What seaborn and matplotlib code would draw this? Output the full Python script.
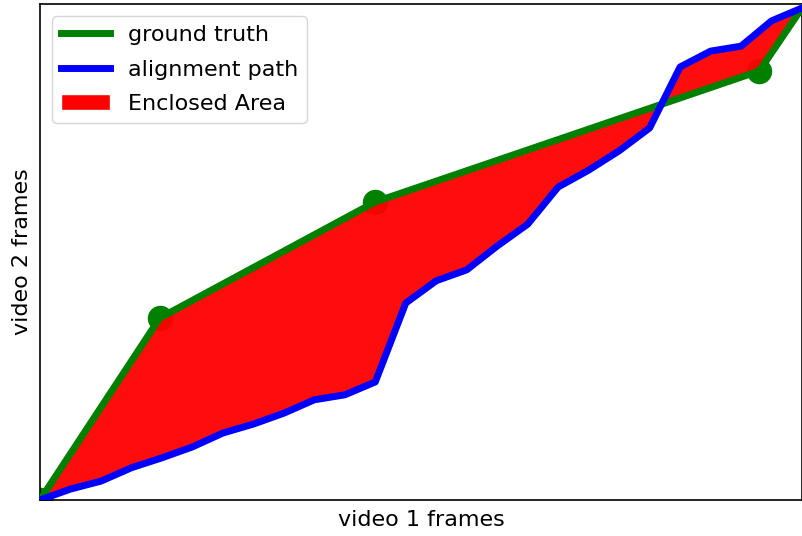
import matplotlib; matplotlib.use("Agg")
import matplotlib.pyplot as plt
import numpy as np
import seaborn as sns
from matplotlib.patches import Patch

# alignment path: one point per frame of video 1
path_x = list(range(26))
path_y = [0.0, 2.2, 3.8, 6.5, 8.5, 10.7, 13.5, 15.3, 17.5, 20.2, 21.2, 23.8, 39.7,
          44.2, 46.4, 51.2, 55.6, 63.1, 66.5, 70.4, 75.0, 87.3, 90.5, 91.5, 96.6, 99.2]
# ground truth keyframes
gt_x = [0.0, 3.93, 11.0, 23.6, 25.0]
gt_y = [0.0, 36.7, 60.1, 86.5, 99.2]
key_x = [0.0, 3.93, 11.0, 23.6]
key_y = [0.0, 36.7, 60.1, 86.5]

sns.set_style("white")
plt.rcParams.update({"font.family": ["DejaVu Sans"], "text.color": "black",
                     "axes.labelcolor": "black", "lines.solid_capstyle": "projecting"})

fig = plt.figure(figsize=(8.02, 5.36), dpi=100)
ax = fig.add_axes([40/802, 36/536, 762/802, 496/536])

ax.scatter(key_x, key_y, s=300, color="green", zorder=1)
poly_x = gt_x + path_x[::-1]
poly_y = gt_y + path_y[::-1]
ax.fill(poly_x, poly_y, facecolor="red", edgecolor="red", lw=3, alpha=0.95, zorder=2)
sns.lineplot(x=gt_x, y=gt_y, ax=ax, color="green", lw=5, sort=False, estimator=None, zorder=3)
sns.lineplot(x=path_x, y=path_y, ax=ax, color="blue", lw=5, sort=False, estimator=None, zorder=3)

ax.set_xlim(0, 25); ax.set_ylim(0, 100)
ax.set_xticks([]); ax.set_yticks([])
for s in ax.spines.values():
    s.set_color("black"); s.set_linewidth(1.2)
ax.set_xlabel("video 1 frames", fontsize=16, labelpad=7)
ax.set_ylabel("video 2 frames", fontsize=16, labelpad=6)

handles = [plt.Line2D([], [], color="green", lw=5),
           plt.Line2D([], [], color="blue", lw=5),
           Patch(facecolor="red")]
ax.legend(handles, ["ground truth", "alignment path", "Enclosed Area"],
          loc="upper left", fontsize=16, frameon=True, handlelength=2.2,
          borderaxespad=0.55, labelspacing=0.65)

fig.savefig("out.png", dpi=100, facecolor="white")
